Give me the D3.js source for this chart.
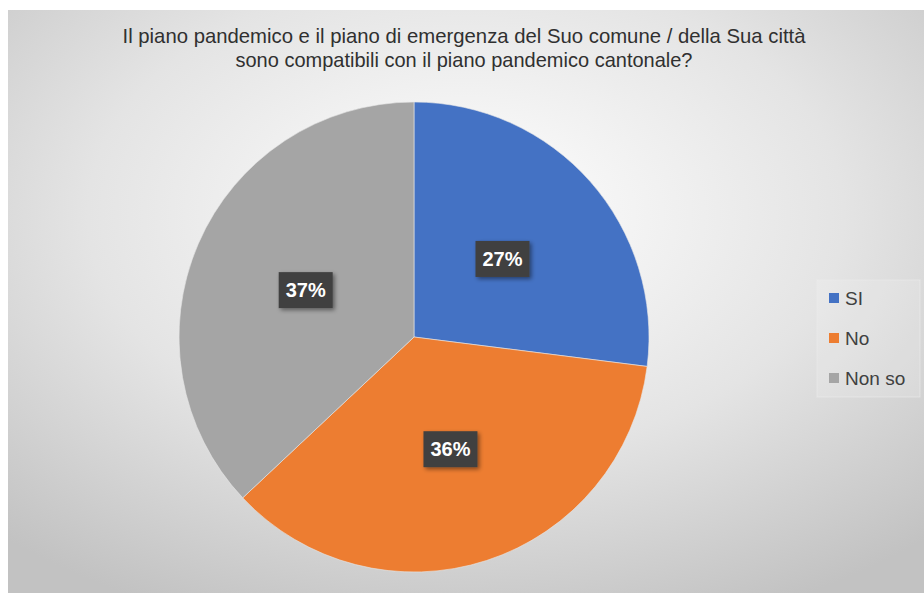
<!DOCTYPE html>
<html>
<head>
<meta charset="utf-8">
<script src="https://cdn.jsdelivr.net/npm/d3@7"></script>
<style>
  body { margin: 0; background: #fff; }
  svg { display: block; }
</style>
</head>
<body>
<div id="chart"></div>
<script>
var width = 924;
var height = 594;

var categories = ["SI", "No", "Non so"];
var values = [27, 36, 37];
var colors = ["#4472C4", "#ED7D31", "#A5A5A5"];
var titleLines = [
  "Il piano pandemico e il piano di emergenza del Suo comune / della Sua città",
  "sono compatibili con il piano pandemico cantonale?"
];

var svg = d3.select("#chart").append("svg").attr("width", width).attr("height", height);
var defs = svg.append("defs");

var grad = defs.append("radialGradient").attr("id", "bg")
  .attr("cx", "50%").attr("cy", "35%").attr("r", "75%");
grad.append("stop").attr("offset", "0%").attr("stop-color", "#ffffff");
grad.append("stop").attr("offset", "55%").attr("stop-color", "#e4e4e4");
grad.append("stop").attr("offset", "100%").attr("stop-color", "#c2c2c2");

var shadow = defs.append("filter").attr("id", "shadow")
  .attr("x", "-30%").attr("y", "-30%").attr("width", "160%").attr("height", "160%");
shadow.append("feDropShadow").attr("dx", 2).attr("dy", 2).attr("stdDeviation", 2)
  .attr("flood-color", "#000").attr("flood-opacity", 0.45);

// chart area
svg.append("rect").attr("x", 8).attr("y", 10).attr("width", 916).attr("height", 583)
  .attr("fill", "url(#bg)");

// title
var title = svg.append("g").attr("font-family", "Liberation Sans Narrow, Liberation Sans, Arial, sans-serif")
  .attr("font-size", 21).attr("fill", "#303030").attr("text-anchor", "middle");
var titleWidths = [683, 457];
titleLines.forEach(function(t, i) {
  title.append("text").attr("x", 464).attr("y", 43 + i * 24)
    .attr("textLength", titleWidths[i]).attr("lengthAdjust", "spacingAndGlyphs")
    .text(t);
});

// pie
var cx = 414, cy = 337, radius = 235;
var pie = d3.pie().sort(null).value(function(d) { return d; });
var arc = d3.arc().innerRadius(0).outerRadius(radius);
var labelArc = d3.arc().innerRadius(118).outerRadius(118);
var arcs = pie(values);

var g = svg.append("g").attr("transform", "translate(" + cx + "," + cy + ")");
g.selectAll("path")
  .data(arcs)
  .enter().append("path")
    .attr("d", arc)
    .attr("fill", function(d, i) { return colors[i]; })
    .attr("stroke", "#e8e8e8")
    .attr("stroke-width", 0.6);

var labels = g.selectAll("g.lbl")
  .data(arcs)
  .enter().append("g")
    .attr("class", "lbl")
    .attr("transform", function(d) { return "translate(" + labelArc.centroid(d) + ")"; });

labels.append("rect")
  .attr("x", -27).attr("y", -18).attr("width", 54).attr("height", 36)
  .attr("fill", "#404040")
  .attr("filter", "url(#shadow)");

labels.append("text")
  .attr("text-anchor", "middle")
  .attr("dy", "0.36em")
  .attr("font-family", "Liberation Sans, Arial, sans-serif")
  .attr("font-weight", "bold")
  .attr("font-size", 20)
  .attr("fill", "#ffffff")
  .text(function(d) { return d.data + "%"; });

// legend
var legend = svg.append("g");
legend.append("rect").attr("x", 817).attr("y", 280).attr("width", 103).attr("height", 117)
  .attr("fill", "#ffffff").attr("fill-opacity", 0.15)
  .attr("stroke", "#ececec").attr("stroke-opacity", 0.6).attr("stroke-width", 1);

var items = legend.selectAll("g.item")
  .data(categories)
  .enter().append("g")
    .attr("class", "item")
    .attr("transform", function(d, i) { return "translate(829," + (298 + i * 40) + ")"; });

items.append("rect").attr("x", 0).attr("y", -5).attr("width", 10).attr("height", 10)
  .attr("fill", function(d, i) { return colors[i]; });

items.append("text").attr("x", 16).attr("dy", "0.36em")
  .attr("font-family", "Liberation Sans, Arial, sans-serif")
  .attr("font-size", 19).attr("fill", "#404040")
  .text(function(d) { return d; });
</script>
</body>
</html>
